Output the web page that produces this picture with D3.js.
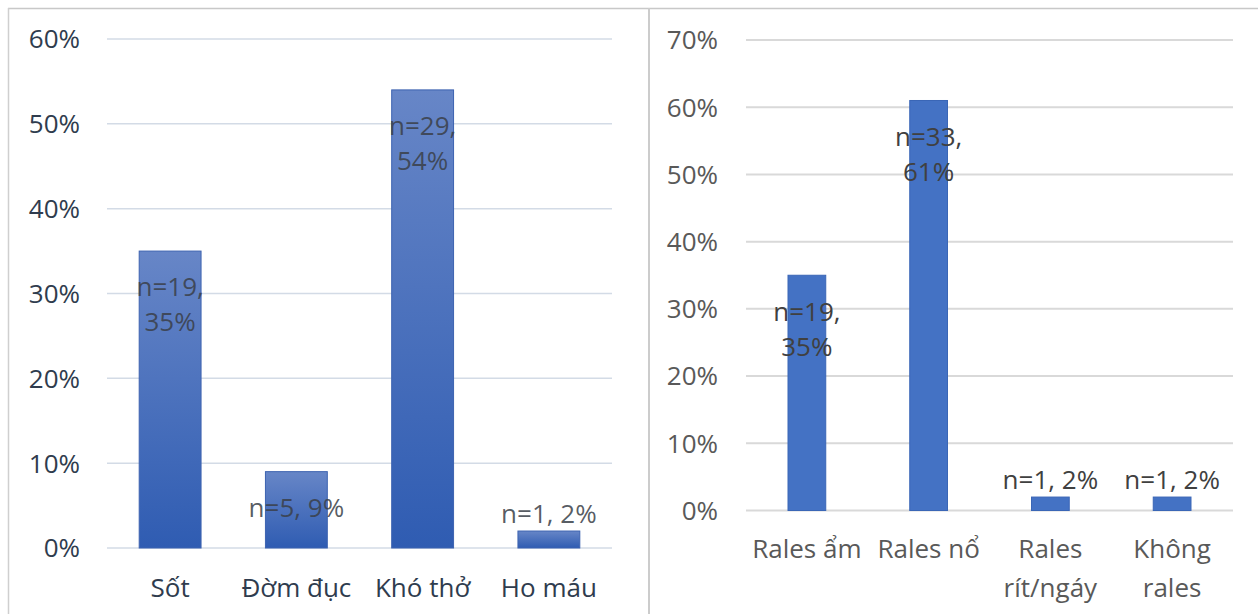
<!DOCTYPE html>
<html>
<head>
<meta charset="utf-8">
<script src="https://cdn.jsdelivr.net/npm/d3@7/dist/d3.min.js"></script>
<style>
  html, body { margin: 0; padding: 0; background: #fff; }
  svg { display: block; font-family: "Open Sans", "Noto Sans", sans-serif; }
</style>
</head>
<body>
<svg id="chart" width="1258" height="614"></svg>
<script>
// Left panel: symptoms
const symptomCats = ["Sốt", "Đờm đục", "Khó thở", "Ho máu"];
const symptomCounts = [19, 5, 29, 1];
const symptomPct = [35, 9, 54, 2];
const symptomTicks = [0, 10, 20, 30, 40, 50, 60];

// Right panel: lung sounds
const ralesCats = [["Rales ẩm"], ["Rales nổ"], ["Rales", "rít/ngáy"], ["Không", "rales"]];
const ralesCounts = [19, 33, 1, 1];
const ralesPct = [35, 61, 2, 2];
const ralesTicks = [0, 10, 20, 30, 40, 50, 60, 70];

const svg = d3.select("#chart");
const FONT = 26;

// frame lines
svg.append("line").attr("x1", 8).attr("x2", 1258).attr("y1", 8.5).attr("y2", 8.5)
  .attr("stroke", "#c8c8c8").attr("stroke-width", 1.5);
svg.append("line").attr("x1", 8.5).attr("x2", 8.5).attr("y1", 8).attr("y2", 614)
  .attr("stroke", "#cfcfcf").attr("stroke-width", 1.5);
svg.append("line").attr("x1", 649).attr("x2", 649).attr("y1", 8).attr("y2", 614)
  .attr("stroke", "#cccccc").attr("stroke-width", 2);

// gradient for left bars
const defs = svg.append("defs");
const grad = defs.append("linearGradient").attr("id", "barGrad")
  .attr("x1", 0).attr("y1", 0).attr("x2", 0).attr("y2", 1);
grad.append("stop").attr("offset", "0%").attr("stop-color", "#6786c7");
grad.append("stop").attr("offset", "100%").attr("stop-color", "#2f5cb2");

function drawPanel(cfg) {
  const g = svg.append("g");
  const x = d3.scaleBand().domain(d3.range(cfg.cats.length))
    .range(cfg.xRange).paddingInner(cfg.pad).paddingOuter(cfg.pad / 2);
  const y = d3.scaleLinear().domain([0, cfg.max]).range(cfg.yRange);

  // grid
  g.append("g").selectAll("line").data(cfg.ticks).join("line")
    .attr("x1", cfg.xRange[0]).attr("x2", cfg.xRange[1])
    .attr("y1", d => y(d)).attr("y2", d => y(d))
    .attr("stroke", cfg.gridColor).attr("stroke-width", cfg.gridWidth);

  // y tick labels
  g.append("g").selectAll("text").data(cfg.ticks).join("text")
    .attr("x", cfg.tickX).attr("y", d => y(d))
    .attr("dy", "0.36em").attr("text-anchor", "end")
    .attr("font-size", FONT).attr("fill", cfg.tickColor)
    .text(d => d + "%");

  // bars
  g.append("g").selectAll("rect").data(cfg.pct).join("rect")
    .attr("x", (d, i) => x(i)).attr("width", x.bandwidth())
    .attr("y", d => y(d)).attr("height", d => y(0) - y(d))
    .attr("fill", cfg.barFill).attr("stroke", cfg.barStroke).attr("stroke-width", 1);

  // data labels
  const lab = g.append("g").selectAll("text").data(cfg.pct).join("text")
    .attr("text-anchor", "middle").attr("font-size", FONT)
    .attr("fill", cfg.labelColor).attr("fill-opacity", cfg.labelOpacity);
  lab.each(function (d, i) {
    const txt = `n=${cfg.counts[i]}, ${d}%`;
    const lines = txt.length > 8 ? [`n=${cfg.counts[i]},`, `${d}%`] : [txt];
    const barH = y(0) - y(d);
    const cx = x(i) + x.bandwidth() / 2;
    let firstY;
    if (barH > 40) firstY = y(d) + 36;
    else firstY = y(d) - 17 - (lines.length - 1) * 35;
    lines.forEach((ln, k) => {
      d3.select(this).append("tspan").attr("x", cx)
        .attr("y", firstY + k * 35).attr("dy", "0.36em").text(ln);
    });
  });

  // category labels
  const cat = g.append("g").selectAll("text").data(cfg.cats).join("text")
    .attr("text-anchor", "middle").attr("font-size", FONT).attr("fill", cfg.catColor);
  cat.each(function (d, i) {
    const lines = Array.isArray(d) ? d : [d];
    lines.forEach((ln, k) => {
      d3.select(this).append("tspan").attr("x", x(i) + x.bandwidth() / 2)
        .attr("y", cfg.catY + k * 39).attr("dy", "0.36em").text(ln);
    });
  });
}

drawPanel({
  cats: symptomCats, counts: symptomCounts, pct: symptomPct, ticks: symptomTicks,
  max: 60, xRange: [107, 612], yRange: [548, 39], pad: 0.51,
  gridColor: "#d3dbe6", gridWidth: 1.5, tickX: 80, tickColor: "#2f3c4e",
  barFill: "url(#barGrad)", barStroke: "#3d63b0",
  labelColor: "#3a3f48", labelOpacity: 0.85, catColor: "#2f3c4e", catY: 588
});

drawPanel({
  cats: ralesCats, counts: ralesCounts, pct: ralesPct, ticks: ralesTicks,
  max: 70, xRange: [746, 1233], yRange: [510.5, 40], pad: 0.69,
  gridColor: "#d9d9d9", gridWidth: 2, tickX: 718, tickColor: "#595959",
  barFill: "#4472c4", barStroke: "#3a66b6",
  labelColor: "#404040", labelOpacity: 1, catColor: "#595959", catY: 549
});
</script>
</body>
</html>
